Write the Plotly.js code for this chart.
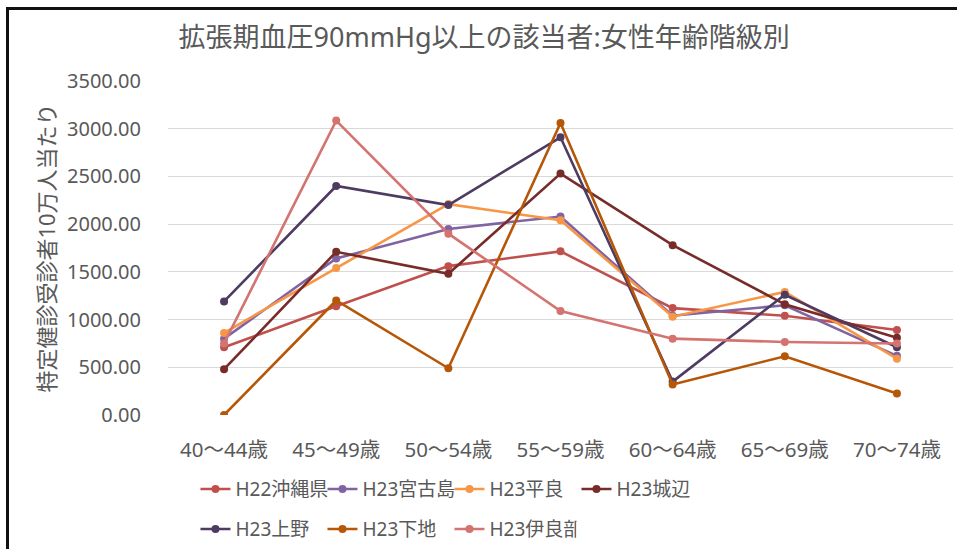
<!DOCTYPE html>
<html>
<head>
<meta charset="utf-8">
<script src="https://cdn.plot.ly/plotly-3.0.1.min.js"></script>
<style>
  html, body { margin: 0; padding: 0; background: #fff; }
  #wrap { position: relative; width: 957px; height: 549px; overflow: hidden; }
  #chart { width: 957px; height: 549px; }
  #frame { position: absolute; left: 6px; top: 7px; width: 1000px; height: 600px;
           border-left: 3px solid #111; border-top: 3px solid #111; pointer-events: none; }
</style>
</head>
<body>
<div id="wrap">
  <div id="chart"></div>
  <div id="frame"></div>
</div>
<script>
const categories = ["40～44歳", "45～49歳", "50～54歳", "55～59歳", "60～64歳", "65～69歳", "70～74歳"];
const seriesNames = ["H22沖縄県", "H23宮古島", "H23平良", "H23城辺", "H23上野", "H23下地", "H23伊良部"];
const okinawa  = [710, 1140, 1560, 1715, 1120, 1040, 890];
const miyako   = [800, 1640, 1950, 2080, 1040, 1150, 620];
const hirara   = [860, 1540, 2210, 2040, 1030, 1290, 590];
const gusukube = [480, 1710, 1480, 2530, 1780, 1160, 810];
const ueno     = [1190, 2400, 2200, 2910, 350, 1260, 710];
const shimoji  = [0, 1200, 490, 3060, 320, 615, 225];
const irabu    = [750, 3085, 1900, 1090, 800, 765, 750];
const yTickVals = [0, 500, 1000, 1500, 2000, 2500, 3000, 3500];

const seriesValues = [okinawa, miyako, hirara, gusukube, ueno, shimoji, irabu];
const colors = ["#c0504d", "#8064a2", "#f79646", "#772c2a", "#4d3b62", "#b65708", "#d4736f"];

const FONT = "'Noto Sans', 'Noto Sans CJK JP', sans-serif";
const TXT = "#595959";

const traces = seriesNames.map((n, i) => ({
  type: "scatter",
  mode: "lines+markers",
  name: n,
  x: categories,
  y: seriesValues[i],
  legend: i < 4 ? "legend" : "legend2",
  line: { color: colors[i], width: 2.6 },
  marker: { color: colors[i], size: 8 }
}));

const legendBase = {
  orientation: "h", x: 0.035, xanchor: "left", yanchor: "top",
  font: { family: FONT, size: 19, color: TXT },
  entrywidth: 82, entrywidthmode: "pixels",
  itemwidth: 30, bgcolor: "rgba(0,0,0,0)"
};

const layout = {
  width: 957, height: 549,
  paper_bgcolor: "#fff", plot_bgcolor: "#fff",
  margin: { l: 168, r: 4, t: 81, b: 134, autoexpand: false },
  title: { text: "拡張期血圧90mmHg以上の該当者:女性年齢階級別", font: { family: FONT, size: 27, color: TXT },
           x: 0.506, xref: "container", xanchor: "center", y: 0.931, yref: "container", yanchor: "middle" },
  xaxis: {
    type: "category", range: [-0.5, 6.5],
    showgrid: false, zeroline: false, showline: false, ticks: "",
    tickfont: { family: FONT, size: 20.5, color: TXT },
    ticklabelstandoff: 20,
    fixedrange: true
  },
  yaxis: {
    range: [0, 3500], tickvals: yTickVals, tickformat: ".2f",
    gridcolor: "#d9d9d9", gridwidth: 1, zeroline: false, showline: false, ticks: "",
    tickfont: { family: FONT, size: 20, color: TXT },
    ticklabelstandoff: 26,
    title: { text: "特定健診受診者10万人当たり", font: { family: FONT, size: 22, color: TXT }, standoff: 5 },
    automargin: false
  },
  showlegend: true,
  legend: Object.assign({}, legendBase, { y: -0.165 }),
  legend2: Object.assign({}, legendBase, { y: -0.285 }),
  hovermode: false
};

Plotly.newPlot("chart", traces, layout, { displayModeBar: false, staticPlot: true });
</script>
</body>
</html>
